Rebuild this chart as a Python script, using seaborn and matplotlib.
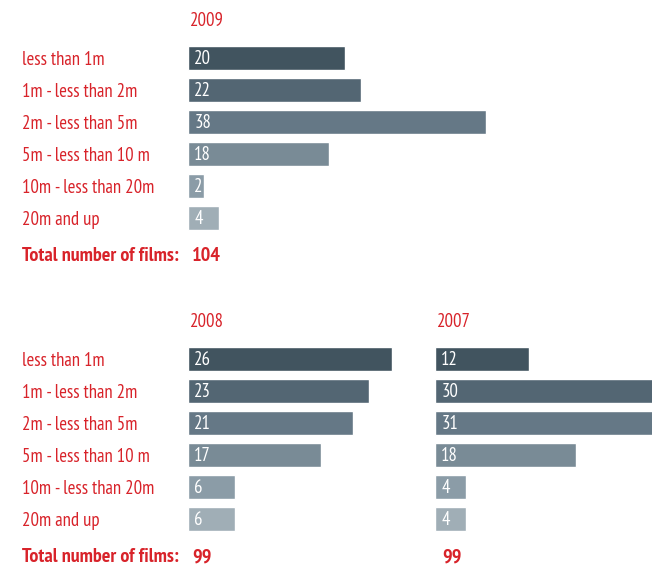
import pandas as pd
import seaborn as sns
import matplotlib.pyplot as plt

categories = ['less than 1m', '1m - less than 2m', '2m - less than 5m',
              '5m - less than 10 m', '10m - less than 20m', '20m and up']
films_2009 = [20, 22, 38, 18, 2, 4]
films_2008 = [26, 23, 21, 17, 6, 6]
films_2007 = [12, 30, 31, 18, 4, 4]
totals = {'2009': 104, '2008': 99, '2007': 99}

bar_colors = ['#41545f', '#536673', '#657886', '#798b96', '#8b9ca7', '#a0aeb6']
red = '#d8232a'

sns.set_style('white')
plt.rcParams['font.family'] = ['PT Sans Narrow', 'Liberation Sans Narrow', 'DejaVu Sans']

W, H = 652, 565
fig = plt.figure(figsize=(W / 100, H / 100), dpi=100)
FS = 13.5
FS_BOLD = 14.5


def panel(left_px, top_px, values, year, show_labels):
    # about 7.85 px per film, axes covers 0..40
    ax = fig.add_axes([left_px / W, 1 - (top_px + 192) / H, 314 / W, 192 / H])
    df = pd.DataFrame({'category': categories, 'films': values})
    sns.barplot(data=df, x='films', y='category', hue='category', palette=bar_colors,
                width=0.78, legend=False, ax=ax, saturation=1)
    ax.set_xlim(0, 40)
    ax.set_ylim(5.5, -0.5)
    ax.set_xlabel('')
    ax.set_ylabel('')
    ax.set_xticks([])
    sns.despine(ax=ax, left=True, bottom=True)
    label_pad = (left_px - 22) * 0.72
    if show_labels:
        ax.set_yticks(range(len(categories)))
        ax.set_yticklabels(categories, ha='left', color=red, fontsize=FS)
        ax.tick_params(axis='y', length=0, pad=label_pad)
    else:
        ax.set_yticks([])
    for i, v in enumerate(values):
        ax.annotate(str(v), xy=(0, i), xytext=(4.5, -1), textcoords='offset points',
                    ha='left', va='center', color='white', fontsize=FS)
    ax.annotate(year, xy=(0, -1.17), xytext=(1.5, 0), textcoords='offset points',
                color=red, fontsize=FS, ha='left', va='center', annotation_clip=False)
    ax.annotate(str(totals[year]), xy=(0, 6.2), xytext=(3 if show_labels else 5.5, 0),
                textcoords='offset points', color=red, fontsize=FS_BOLD, fontweight='bold',
                ha='left', va='center', annotation_clip=False)
    if show_labels:
        ax.annotate('Total number of films:', xy=(0, 6.2), xytext=(-label_pad, 0),
                    textcoords='offset points', ha='left', va='center', color=red,
                    fontsize=FS_BOLD, fontweight='bold', annotation_clip=False)
    return ax


panel(188, 42, films_2009, '2009', True)
panel(188, 343, films_2008, '2008', True)
panel(435, 343, films_2007, '2007', False)

fig.savefig('out.png', dpi=100)
